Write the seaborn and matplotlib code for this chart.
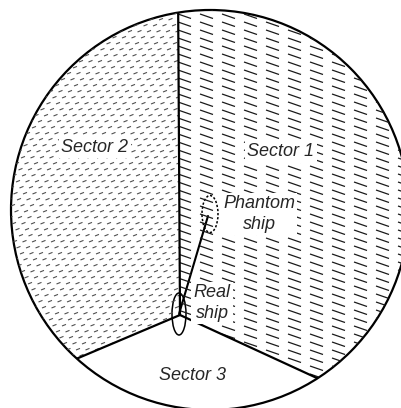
import numpy as np
import pandas as pd
import matplotlib
matplotlib.use("Agg")
import matplotlib.pyplot as plt
from matplotlib.patches import Ellipse, Polygon
from matplotlib.collections import LineCollection
import seaborn as sns

# Diagram content
sector_names = ["Sector 1", "Sector 2", "Sector 3"]
# sector boundaries as angles (deg, y pointing down) on the outer circle
sector_edges_deg = [-99.2, 57.3, 132.0]
ship_labels = ["Phantom\nship", "Real\nship"]

# layout (pixel coordinates, y down)
circle_c = (210, 210)
circle_rx, circle_ry = 199, 200
hub = (180, 315)
real_ship = dict(xy=(179, 314), w=14, h=42)
phantom_ship = dict(xy=(210, 214), w=16, h=37)
sector_text_pos = [(281, 152), (95, 147), (193, 376)]
ship_text_pos = [(259, 214), (212, 303)]

sns.set_theme(style="white")
plt.rcParams['font.family'] = ['Liberation Sans', 'DejaVu Sans']

fig = plt.figure(figsize=(4.02, 4.08), dpi=100)
ax = fig.add_axes([0, 0, 1, 1])


def on_circle(deg):
    a = np.deg2rad(deg)
    return (circle_c[0] + circle_rx * np.cos(a), circle_c[1] + circle_ry * np.sin(a))


def sector_patch(a0, a1):
    angs = np.linspace(a0, a1, 120)
    pts = [hub] + [on_circle(a) for a in angs]
    p = Polygon(pts, closed=True, facecolor="none", edgecolor="none")
    ax.add_patch(p)
    return p


def dash_field(dx_step, dy_step, shift, dx, dy, color, lw):
    segs = []
    for i, y in enumerate(np.arange(-10, 420, dy_step)):
        for x in np.arange(-20 + (i * shift) % dx_step, 420, dx_step):
            segs.append([(x, y), (x + dx, y + dy)])
    return LineCollection(segs, colors=color, linewidths=lw, capstyle="butt")


# track of the ship echo (seaborn line)
track = pd.DataFrame({"x": [real_ship["xy"][0], 208], "y": [real_ship["xy"][1], 216]})
sns.lineplot(data=track, x="x", y="y", sort=False, color="black", lw=1.5, ax=ax)

# sector 1: long dashes sloping down
p1 = sector_patch(sector_edges_deg[0], sector_edges_deg[1])
lc1 = dash_field(22, 8, 0, 13, 4.5, "#1a1a1a", 0.9)
ax.add_collection(lc1)
lc1.set_clip_path(p1)

# sector 2: short fine dashes rising
p2 = sector_patch(sector_edges_deg[2], sector_edges_deg[0] + 360)
lc2 = dash_field(9.5, 6, 3.5, 4.0, -1.6, "#505050", 0.8)
ax.add_collection(lc2)
lc2.set_clip_path(p2)

# sector boundaries
for a in sector_edges_deg:
    ex, ey = on_circle(a)
    ax.plot([hub[0], ex], [hub[1], ey], color="black", lw=1.6, solid_capstyle="butt")

# outer circle
ax.add_patch(Ellipse(circle_c, 2 * circle_rx, 2 * circle_ry, fill=False,
                     edgecolor="black", lw=1.6))

# ships
ax.add_patch(Ellipse(real_ship["xy"], real_ship["w"], real_ship["h"], fill=False,
                     edgecolor="black", lw=1.1))
ax.add_patch(Ellipse(phantom_ship["xy"], phantom_ship["w"], phantom_ship["h"], fill=False,
                     edgecolor="black", lw=1.1, linestyle=(0, (1.5, 1.2))))

box = dict(facecolor="white", edgecolor="none", pad=1.5)
for name, (x, y) in zip(sector_names, sector_text_pos):
    ax.text(x, y, name, fontsize=13, style="italic", ha="center", va="center",
            bbox=box)
for name, (x, y) in zip(ship_labels, ship_text_pos):
    ax.text(x, y, name, fontsize=13, style="italic", ha="center", va="center",
            linespacing=1.25, bbox=box)

ax.set_xlim(0, 402)
ax.set_ylim(408, 0)
ax.axis("off")

plt.savefig("out.png", dpi=100)
